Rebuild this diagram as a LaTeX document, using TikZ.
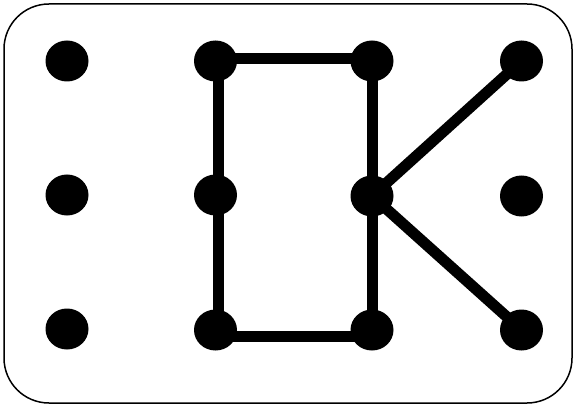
\documentclass[tikz,border=0pt]{standalone}
\usetikzlibrary{shapes.geometric,calc}
\begin{document}
\begin{tikzpicture}[x=1pt,y=-1pt,
  dot/.style={ellipse,fill=black,inner sep=0pt,minimum width=43pt,minimum height=41pt},
  edge/.style={line width=11pt,line join=miter}]
\useasboundingbox (0,0) rectangle (575,406);
\draw[line width=1.5pt,rounded corners=45pt] (4,4) rectangle (572,403);
% dots
\node[dot] (a1) at (67,61) {};
\node[dot] (a2) at (67,195) {};
\node[dot] (a3) at (67,329) {};
\node[dot] (b1) at (215.5,61) {};
\node[dot] (b2) at (215.5,195) {};
\node[dot] (b3) at (215.5,330) {};
\node[dot] (c1) at (372,61) {};
\node[dot] (c2) at (372,196) {};
\node[dot] (c3) at (372,330) {};
\node[dot] (d1) at (521.5,61) {};
\node[dot] (d2) at (521.5,196) {};
\node[dot] (d3) at (521.5,330) {};
% connectors
\coordinate (tl) at ($(b1.center)+(3,-2)$);
\coordinate (tr) at ($(c1.center)+(0.5,-2)$);
\coordinate (br) at ($(c3.center)+(0.5,6)$);
\coordinate (bl) at ($(b3.center)+(3,6)$);
\draw[edge] (tl) -- (tr) -- (br) -- (bl) -- cycle;
\draw[edge] (c2.center) -- (d1.center);
\draw[edge] (c2.center) -- (d3.center);
\end{tikzpicture}
\end{document}
